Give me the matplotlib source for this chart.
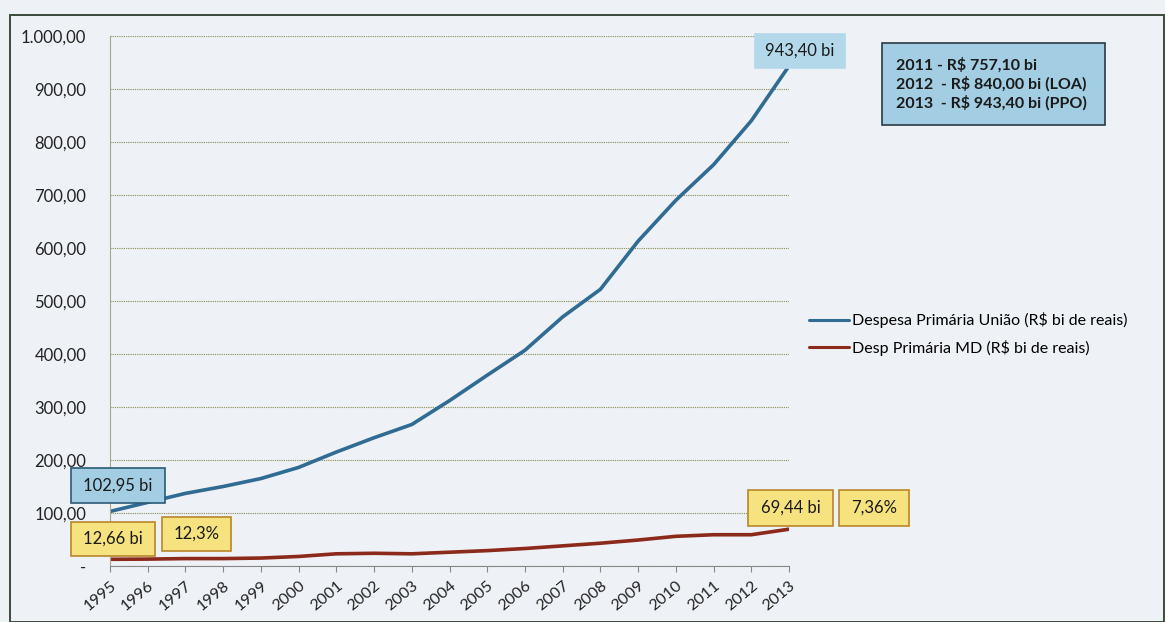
import numpy as np
import matplotlib
matplotlib.use("Agg")
import matplotlib.pyplot as plt
from matplotlib.patches import Rectangle

plt.rcParams['font.family'] = ['Lato', 'DejaVu Sans']

#%% Data
anos = [str(a) for a in range(1995, 2014)]
uniao = [102.95, 120, 137, 150, 165, 186, 215, 242, 267, 312, 360, 407, 470, 522, 613, 690, 757.10, 840.00, 943.40]
md = [12.66, 13, 14, 14, 15, 18, 23, 24, 23, 26, 29, 33, 38, 43, 49, 56, 59, 59, 69.44]
serie_nomes = ['Despesa Primária União (R$ bi de reais)', 'Desp Primária MD (R$ bi de reais)']
y_ticks = np.arange(0, 1001, 100)

def fmt_br(v):
    if v == 0:
        return '-'
    s = '{:,.2f}'.format(v)
    return s.replace(',', 'X').replace('.', ',').replace('X', '.')

#%% Figure
W, H = 1165, 622
fig = plt.figure(figsize=(W / 100, H / 100), dpi=100)
bg = '#eef1f5'
fig.patch.set_facecolor(bg)
# outer frame
fig.patches.append(Rectangle((10 / W, 0), 1 - 11 / W, 1 - 15 / H, transform=fig.transFigure,
                             fill=False, edgecolor='#3a4a3a', lw=1.4))

ax = fig.add_axes([110 / W, 1 - 566 / H, (789 - 110) / W, (566 - 36) / H])
ax.set_facecolor(bg)
x = np.arange(len(anos))
ax.plot(x, uniao, color='#2f6b93', lw=2.6, label=serie_nomes[0], solid_capstyle='round', solid_joinstyle='round')
ax.plot(x, md, color='#8b2a1a', lw=2.6, label=serie_nomes[1], solid_capstyle='round', solid_joinstyle='round')

ax.set_xlim(0, len(anos) - 1)
ax.set_ylim(0, 1000)
ax.set_yticks(y_ticks)
ax.set_yticklabels([fmt_br(v) for v in y_ticks], fontsize=12, color='#222222')
ax.set_xticks(x)
ax.set_xticklabels(anos, rotation=40, ha='right', rotation_mode='anchor', fontsize=11.5, color='#222222')
ax.tick_params(axis='y', length=0, pad=17)
ax.tick_params(axis='x', length=4, color='#888888', pad=5)
ax.grid(axis='y', color='#8a8a50', ls=(0, (1, 1)), lw=0.8)
for s in ['top', 'right']:
    ax.spines[s].set_visible(False)
ax.spines['left'].set_color('#a8a890')
ax.spines['bottom'].set_color('#888888')
ax.spines['left'].set_linestyle((0, (1, 1)))

leg = fig.legend(loc='upper left', bbox_to_anchor=(795 / W, 1 - 298 / H), frameon=False,
                 fontsize=11.5, handlelength=2.5, handletextpad=0.2, labelspacing=0.7)
for ln in leg.get_lines():
    ln.set_linewidth(2.2)

#%% Annotation boxes (figure pixel positions)
def caixa(x0, y0, x1, y1, txt, face, edge, fs=11.5, ha='center', lw=1.2, weight='normal'):
    fig.patches.append(Rectangle((x0 / W, 1 - y1 / H), (x1 - x0) / W, (y1 - y0) / H,
                                 transform=fig.transFigure, facecolor=face,
                                 edgecolor=edge if edge else face, lw=lw, zorder=5))
    if ha == 'center':
        fig.text((x0 + x1) / 2 / W, 1 - (y0 + y1) / 2 / H, txt, ha='center', va='center',
                 fontsize=fs, color='#1a1a1a', zorder=6, fontweight=weight)
    else:
        fig.text((x0 + 14) / W, 1 - (y0 + y1) / 2 / H, txt, ha='left', va='center',
                 fontsize=fs, color='#1a1a1a', zorder=6, linespacing=1.25, fontweight=weight)

azul = '#a3cde2'
amarelo = '#f6e27e'
borda_am = '#b8862a'
caixa(755, 34, 845, 68, '943,40 bi', '#b3d8ea', None, fs=12)
caixa(882, 43, 1105, 125, '2011 - R$ 757,10 bi\n2012  - R$ 840,00 bi (LOA)\n2013  - R$ 943,40 bi (PPO)',
      azul, '#2a3a44', fs=11.5, ha='left', weight='bold')
caixa(71, 468, 165, 503, '102,95 bi', azul, '#2a5a77', fs=12)
caixa(71, 522, 155, 556, '12,66 bi', amarelo, borda_am, fs=12)
caixa(162, 517, 231, 551, '12,3%', amarelo, borda_am, fs=12)
caixa(748, 490, 833, 526, '69,44 bi', amarelo, borda_am, fs=12)
caixa(839, 490, 909, 526, '7,36%', amarelo, borda_am, fs=12)

fig.savefig('out.png', dpi=100, facecolor=fig.get_facecolor())
